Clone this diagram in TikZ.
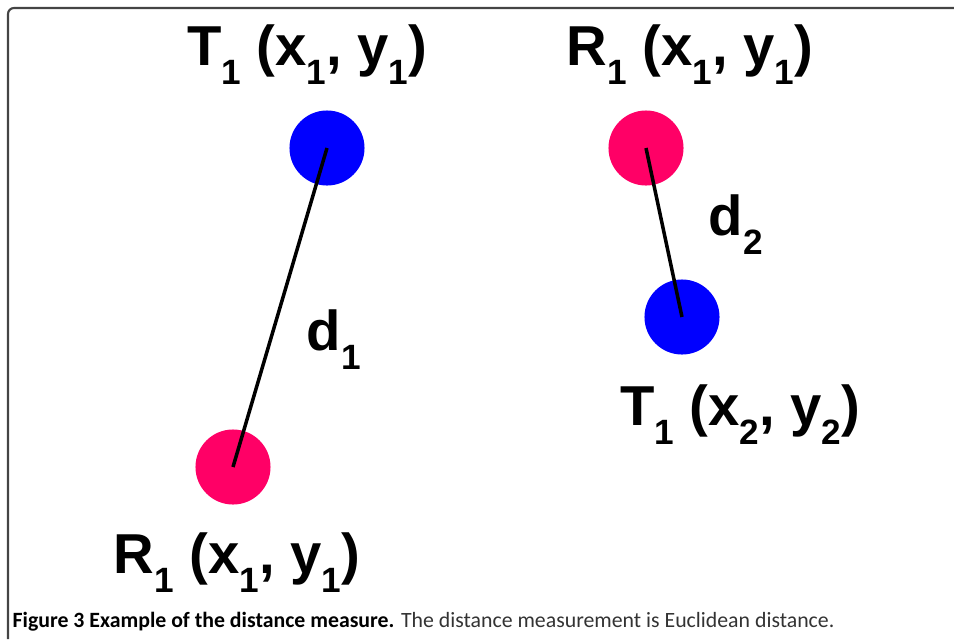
\documentclass[tikz,border=0pt]{standalone}
\usepackage{fontspec}
\setmainfont{Liberation Sans}
\newfontfamily\capfont{Carlito}
\definecolor{rpink}{HTML}{FF0066}
\definecolor{tblue}{HTML}{0000FF}
\definecolor{framegray}{HTML}{444444}
\definecolor{captext}{HTML}{333333}
\newcommand{\lowsub}[1]{\raisebox{-5.5pt}{\fontsize{10}{10}\selectfont #1}}
\tikzset{
  dot/.style={circle, inner sep=0pt, minimum size=0.75cm},
  lbl/.style={anchor=base, inner sep=0pt, font=\fontsize{16}{18}\selectfont\bfseries}
}
\begin{document}
\begin{tikzpicture}[x=0.01cm,y=-0.01cm]
  \useasboundingbox (0,0) rectangle (954,639);
  \draw[framegray, line width=0.6pt, rounded corners=0.06cm] (8,639) -- (8,8) -- (954,8);
  % left pair
  \node[dot, fill=tblue] (T1) at (327,148) {};
  \node[dot, fill=rpink] (R1) at (233,467) {};
  \draw[line width=1pt] (T1.center) -- (R1.center);
  \node[lbl] (T1lbl) at (307,65) {T\lowsub{1} (x\lowsub{1}, y\lowsub{1})};
  \node[lbl] (R1lbl) at (237,573) {R\lowsub{1} (x\lowsub{1}, y\lowsub{1})};
  \node[lbl, anchor=base west] (d1) at (306,350) {d\lowsub{1}};
  % right pair
  \node[dot, fill=rpink] (R2) at (646,148) {};
  \node[dot, fill=tblue] (T2) at (682,317) {};
  \draw[line width=1pt] (R2.center) -- (T2.center);
  \node[lbl] (R2lbl) at (690,65) {R\lowsub{1} (x\lowsub{1}, y\lowsub{1})};
  \node[lbl] (T2lbl) at (740,425) {T\lowsub{1} (x\lowsub{2}, y\lowsub{2})};
  \node[lbl, anchor=base west] (d2) at (708,235) {d\lowsub{2}};
  % caption
  \node[anchor=base west, inner sep=0pt, font=\capfont\fontsize{6.2}{7}\selectfont] (cap) at (12,627)
    {\textbf{Figure 3 Example of the distance measure.} \textcolor{captext}{The distance measurement is Euclidean distance.}};
\end{tikzpicture}
\end{document}
